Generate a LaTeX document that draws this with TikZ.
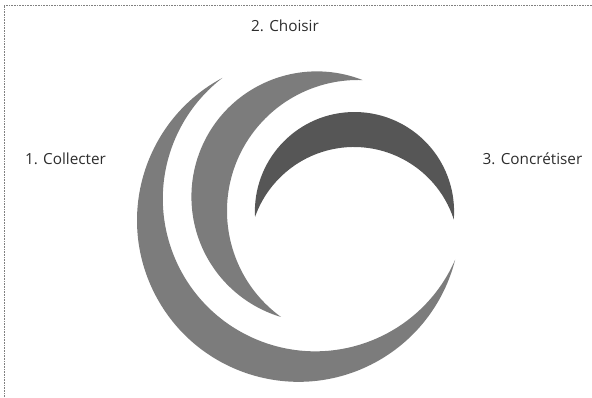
\documentclass[tikz,border=0pt]{standalone}
\usepackage{fontspec}
\setmainfont{Open Sans}
\definecolor{ringgray}{RGB}{124,124,124}
\definecolor{ringdark}{RGB}{86,86,86}
\definecolor{labelgray}{RGB}{45,45,45}
\begin{document}
\begin{tikzpicture}[x=1pt,y=-1pt,
  lbl/.style={font=\fontsize{15.3}{17}\selectfont, text=labelgray, inner sep=0pt},
  frame/.style={densely dotted, gray, line width=0.6pt}]
\useasboundingbox (0,0) rectangle (592,397);
\coordinate (fa) at (592,5);
\coordinate (fb) at (4,5);
\coordinate (fc) at (4,397);
\draw[frame] (fa) -- (fb) -- (fc);
% big C : outer circle (298.5,220.3) r 161.5, inner circle (315.3,198.8) r 152.5
\coordinate (t1a) at (222.44,77.86);
\fill[ringgray] (t1a) arc[start angle=241.89, end angle=14.11, radius=161.5]
  arc[start angle=23.53, end angle=232.48, radius=152.5] -- cycle;
% middle crescent : outer (316.8,196.8) r 125.4, inner (358,211) r 131
\coordinate (t2a) at (362.64,80.08);
\fill[ringgray] (t2a) arc[start angle=291.44, end angle=106.59, radius=125.4]
  arc[start angle=126.0, end angle=272.03, radius=131] -- cycle;
% dark crescent : outer (354.5,211.6) r 99.6, inner (354,252) r 105
\coordinate (t3a) at (255.03,216.9);
\fill[ringdark] (t3a) arc[start angle=176.95, end angle=364.47, radius=99.6]
  arc[start angle=341.89, end angle=199.53, radius=105] -- cycle;
\node[lbl] (collect) at (65.5,158.5) {1. Collecter};
\node[lbl] (choose) at (285,26) {2. Choisir};
\node[lbl] (make) at (532.5,158.5) {3. Concrétiser};
\end{tikzpicture}
\end{document}
